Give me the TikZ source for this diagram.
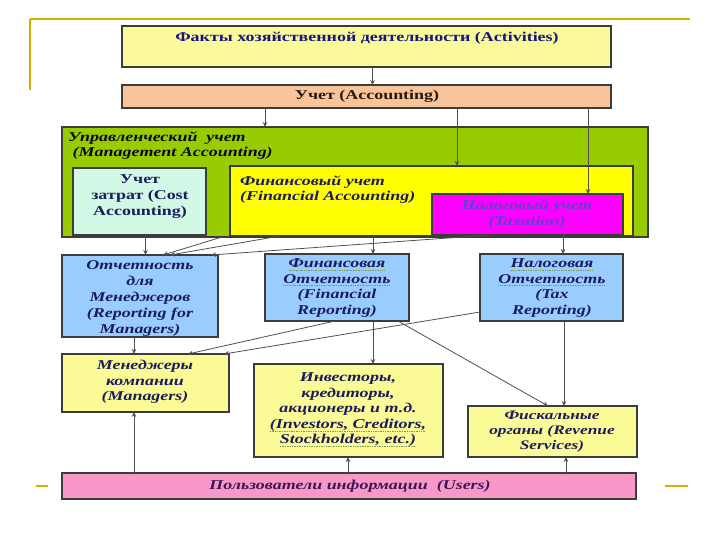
\documentclass[tikz,border=0pt]{standalone}
\usepackage{fontspec}
\setmainfont{Liberation Serif}[FakeStretch=1.33]
\usetikzlibrary{arrows.meta,calc}
\definecolor{decor}{HTML}{D0B000}
\definecolor{actfill}{HTML}{FAFA9A}
\definecolor{accfill}{HTML}{F9C49A}
\definecolor{mgmtfill}{HTML}{99CC00}
\definecolor{costfill}{HTML}{D2F8E6}
\definecolor{finfill}{HTML}{FFFF00}
\definecolor{taxfill}{HTML}{FF00FF}
\definecolor{repfill}{HTML}{99CCFF}
\definecolor{usrfill}{HTML}{FAFA96}
\definecolor{pinkfill}{HTML}{F898C8}
\definecolor{navy}{HTML}{1C1C5C}
\definecolor{taxtext}{HTML}{5A46C8}
\definecolor{edge}{HTML}{3C3C3C}
\definecolor{ulcol}{HTML}{7A9A50}
\newcommand\gul[1]{\setbox0=\hbox{#1}\leavevmode\rlap{\color{ulcol}\lower2.8pt\hbox to\wd0{\xleaders\hbox{\vrule width 1pt height 0.7pt\kern0.7pt}\hfill}}\box0}
\tikzset{
  box/.style={draw=edge, line width=1.1pt, rectangle, inner sep=0pt, outer sep=0pt, anchor=north west},
  txt/.style={font=\fontsize{13.5}{15.5}\selectfont\bfseries\itshape, text=navy, align=center, inner sep=0pt},
  arr/.style={draw=edge!90, line width=0.8pt, -{Stealth[length=5pt,width=4.5pt]}},
  deco/.style={draw=decor, line width=2pt}
}
\begin{document}
\begin{tikzpicture}[x=1pt,y=-1pt]
\useasboundingbox (0,0) rectangle (720,540);
\fill[white] (0,0) rectangle (720,540);
% decoration
\draw[deco] (30,19) -- (690,19);
\draw[deco] (30,19) -- (30,90);
\draw[deco] (36,486) -- (48,486);
\draw[deco] (665,486) -- (688,486);
% boxes
\node[box, fill=actfill, minimum width=489pt, minimum height=41pt] (act) at (122,26) {};
\node[txt, font=\fontsize{13.5}{15.5}\selectfont\bfseries, text=navy!80!blue] (actT) at (367,38) {Факты хозяйственной деятельности (Activities)};
\node[box, fill=accfill, minimum width=489pt, minimum height=23pt] (acc) at (122,85) {};
\node[txt, font=\fontsize{13.5}{15.5}\selectfont\bfseries, text=black!80!brown] (accT) at (367,96.5) {Учет (Accounting)};
\node[box, fill=mgmtfill, minimum width=586pt, minimum height=110pt] (mgmt) at (62,127) {};
\node[txt, anchor=north west, align=left, text=black!70!navy] (mgmtT) at (68,131.5) {Управленческий\ \ учет\\\ (Management Accounting)};
\node[box, fill=costfill, minimum width=133pt, minimum height=67pt] (cost) at (73,168) {};
\node[txt, font=\fontsize{13.5}{16}\selectfont\bfseries] (costT) at (140,197) {Учет\\затрат (Cost\\Accounting)};
\node[box, fill=finfill, minimum width=403pt, minimum height=70pt] (fin) at (230,166) {};
\node[txt, anchor=north west, align=left] (finT) at (240,175.5) {Финансовый учет\\(Financial Accounting)};
\node[box, fill=taxfill, minimum width=191pt, minimum height=41pt] (tax) at (432,194) {};
\node[txt, text=taxtext] (taxT) at (527,214) {Налоговый учет\\(Taxation)};
% row 2
\node[box, fill=repfill, minimum width=156pt, minimum height=82pt] (rmgr) at (62,255) {};
\node[txt, font=\fontsize{13.5}{16}\selectfont\bfseries\itshape] (rmgrT) at (140,298.5) {Отчетность\\для\\Менеджеров\\(Reporting for\\Managers)};
\node[box, fill=repfill, minimum width=144pt, minimum height=67pt] (frep) at (265,254) {};
\node[txt] (frepT) at (337,288) {\gul{Финансовая}\\\gul{Отчетность}\\(Financial\\Reporting)};
\node[box, fill=repfill, minimum width=143pt, minimum height=67pt] (trep) at (480,254) {};
\node[txt] (trepT) at (552,288) {\gul{Налоговая}\\\gul{Отчетность}\\(Tax\\Reporting)};
% row 3
\node[box, fill=usrfill, minimum width=167pt, minimum height=58pt] (mgrs) at (62,354) {};
\node[txt] (mgrsT) at (145,382) {Менеджеры\\компании\\(Managers)};
\node[box, fill=usrfill, minimum width=189pt, minimum height=93pt] (inv) at (254,364) {};
\node[txt] (invT) at (348,410) {Инвесторы,\\кредиторы,\\акционеры и т.д.\\\gul{(Investors, Creditors,}\\\gul{Stockholders, etc.)}};
\node[box, fill=usrfill, minimum width=169pt, minimum height=51pt] (rev) at (468,406) {};
\node[txt, font=\fontsize{13}{15}\selectfont\bfseries\itshape] (revT) at (552,432) {Фискальные\\органы (Revenue\\Services)};
\node[box, fill=pinkfill, minimum width=574pt, minimum height=26pt] (users) at (62,473) {};
\node[txt, text=navy!80!purple] (usersT) at (350,486) {Пользователи информации\ \ (Users)};
% connectors
\draw[arr] ([xshift=6pt]act.south) -- ([xshift=6pt]acc.north);
\draw[arr] ([xshift=143pt]acc.south west) coordinate (c1) -- (c1 |- mgmt.north);
\draw[arr] ([xshift=335pt]acc.south west) coordinate (c2) -- (c2 |- fin.north);
\draw[arr] ([xshift=466pt]acc.south west) coordinate (c3) -- (c3 |- tax.north);
\draw[arr] ([xshift=6pt]cost.south) coordinate (c4) -- (c4 |- rmgr.north);
\draw[arr] ([xshift=160pt]mgmt.south west) -- ([xshift=101pt]rmgr.north west);
\draw[arr] ([xshift=50pt]fin.south west) -- ([xshift=108pt]rmgr.north west);
\draw[arr] ([xshift=58pt]tax.south west) -- ([xshift=149pt]rmgr.north west);
\draw[arr] ([xshift=143pt]fin.south west) coordinate (c5) -- (c5 |- frep.north);
\draw[arr] ([xshift=131pt]tax.south west) coordinate (c6) -- (c6 |- trep.north);
\draw[arr] ([xshift=72pt]rmgr.south west) coordinate (c7) -- (c7 |- mgrs.north);
\draw[arr] ([xshift=70pt]frep.south west) -- ([xshift=126pt]mgrs.north west);
\draw[arr] ([yshift=9pt]trep.south west) -- ([xshift=162pt]mgrs.north west);
\draw[arr] ([xshift=108pt]frep.south west) coordinate (c8) -- (c8 |- inv.north);
\draw[arr] ([xshift=-11pt]frep.south east) -- ([xshift=80pt]rev.north west);
\draw[arr] ([xshift=84pt]trep.south west) coordinate (c9) -- (c9 |- rev.north);
\draw[arr] ([xshift=72pt]users.north west) coordinate (u1) -- (u1 |- mgrs.south);
\draw[arr] ([xshift=286pt]users.north west) coordinate (u2) -- (u2 |- inv.south);
\draw[arr] ([xshift=504pt]users.north west) coordinate (u3) -- (u3 |- rev.south);
\end{tikzpicture}
\end{document}
